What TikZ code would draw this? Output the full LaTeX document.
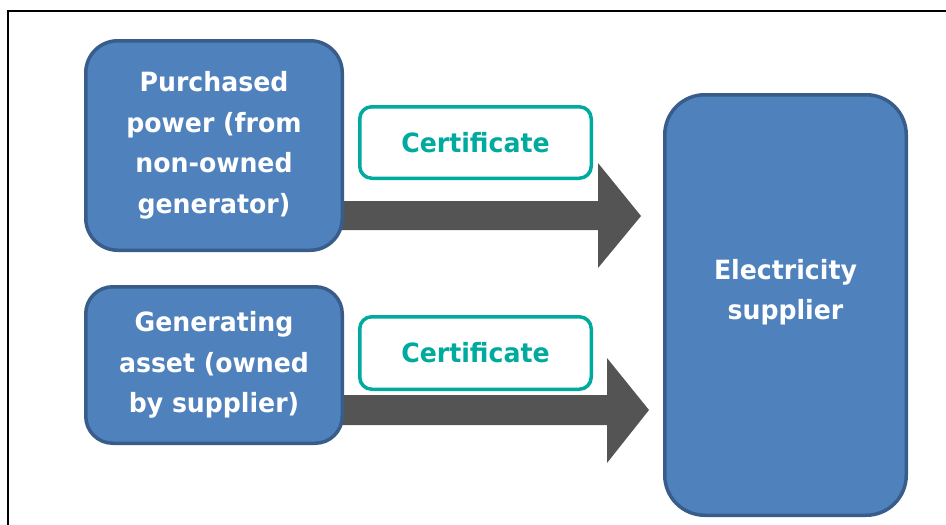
\documentclass[tikz,border=0pt]{standalone}
\usepackage{fontspec}
\setmainfont{DejaVu Sans}[FakeStretch=0.95]
\definecolor{boxfill}{RGB}{79,129,189}
\definecolor{boxline}{RGB}{56,93,138}
\definecolor{certteal}{RGB}{0,170,158}
\definecolor{arrowgray}{RGB}{84,84,84}
\begin{document}
\begin{tikzpicture}[x=1pt,y=-1pt,
  labelfont/.style={font=\bfseries\fontsize{26.5}{40.5}\selectfont},
  bluebox/.style={draw=boxline, fill=boxfill, line width=3.5pt, text=white,
    labelfont, align=center, inner sep=0pt},
  certbox/.style={draw=certteal, fill=white, line width=3.5pt, text=certteal,
    labelfont, align=center, inner sep=0pt,
    minimum width=231.5pt, minimum height=71.5pt, rounded corners=12pt},
  blockarrow/.style={fill=arrowgray, draw=none},
  framestyle/.style={draw=black, line width=2.5pt}
]
\useasboundingbox (0,0) rectangle (946,525);
\draw[framestyle] (8,525) -- (8,11) -- (946,11);

% block arrows (drawn first, behind the boxes)
\fill[blockarrow] (330,201) -- (598,201) -- (598,163) -- (641,216) -- (598,268) -- (598,230) -- (330,230) -- cycle;
\fill[blockarrow] (330,395) -- (607,395) -- (607,358) -- (649,410) -- (607,463) -- (607,425) -- (330,425) -- cycle;

\node[bluebox, minimum width=256.5pt, minimum height=209.5pt, rounded corners=32pt] (b1) at (214,145.5) {Purchased\\power (from\\non-owned\\generator)};
\node[bluebox, minimum width=256.5pt, minimum height=156.5pt, rounded corners=27pt] (b2) at (214,365) {Generating\\asset (owned\\by supplier)};
\node[bluebox, minimum width=241.5pt, minimum height=420.5pt, rounded corners=40pt] (b3) at (785.5,305) {};
\node[text=white, labelfont, align=center, inner sep=0pt] (t3) at (785.5,292) {Electricity\\supplier};

\node[certbox] (c1) at (475.5,142.5) {Certificate};
\node[certbox, minimum height=72.5pt] (c2) at (475.5,353) {Certificate};
\end{tikzpicture}
\end{document}
